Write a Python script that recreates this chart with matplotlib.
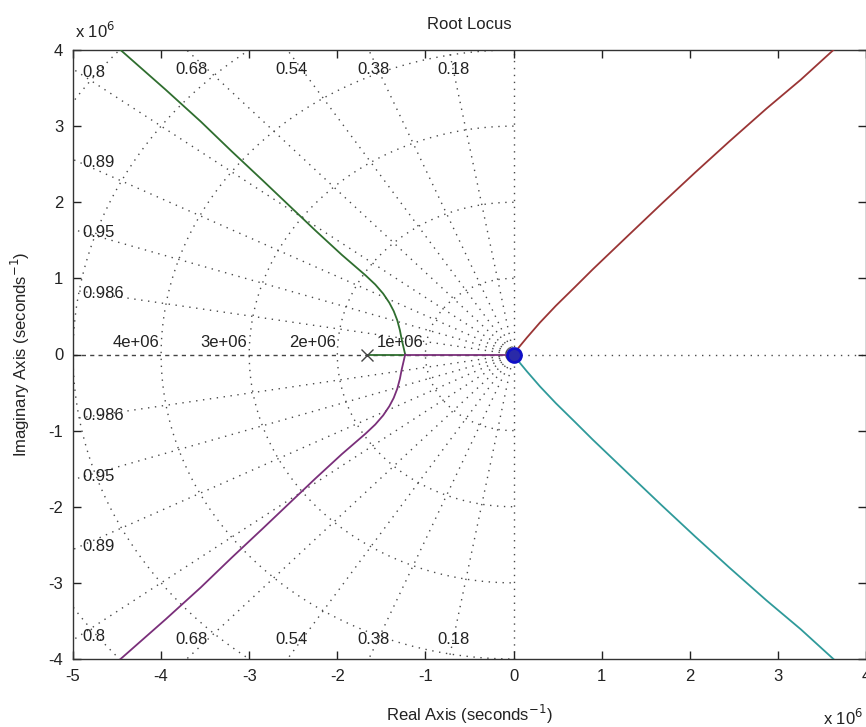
import numpy as np
import matplotlib
matplotlib.use("Agg")
import matplotlib.pyplot as plt

plt.rcParams['font.family'] = ['Liberation Sans Narrow', 'Liberation Sans', 'DejaVu Sans']
plt.rcParams['axes.unicode_minus'] = False

# all values in units of 1e6 seconds^-1
x_ticks = [-5, -4, -3, -2, -1, 0, 1, 2, 3, 4]
y_ticks = [-4, -3, -2, -1, 0, 1, 2, 3, 4]

wn_levels = [1, 2, 3, 4, 5, 6]
wn_labels = ["1e+06", "2e+06", "3e+06", "4e+06"]
zeta_top = [0.18, 0.38, 0.54, 0.68]
zeta_side = [0.8, 0.89, 0.95, 0.986]

# poles
pole_x = [-1.66]
origin_poles = [0.0]

# real axis segments
seg_green_re = [-1.66, -1.23]
seg_purple_re = [-1.23, 0.0]

# left branch (upper half, lower is its conjugate)
left_re = [-1.23, -1.25, -1.27, -1.29, -1.32, -1.36, -1.41, -1.48, -1.57,
           -1.68, -1.80, -1.95, -2.10, -2.25, -2.55, -2.85, -3.20, -3.55,
           -3.95, -4.46]
left_im = [0.0, 0.10, 0.20, 0.32, 0.45, 0.57, 0.68, 0.80, 0.92,
           1.04, 1.16, 1.31, 1.47, 1.63, 1.96, 2.29, 2.67, 3.06,
           3.48, 4.0]

# right branch (upper half, lower is its conjugate)
right_re = [0.0, 0.05, 0.15, 0.30, 0.48, 0.70, 0.90, 1.28, 1.68, 2.06,
            2.45, 2.87, 3.26, 3.63]
right_im = [0.0, 0.08, 0.22, 0.42, 0.64, 0.89, 1.12, 1.54, 1.98, 2.39,
            2.80, 3.23, 3.61, 4.0]

fig = plt.figure(figsize=(8.66, 7.27), dpi=100)
ax = fig.add_axes([73 / 866, 1 - 659 / 727, (866 - 73) / 866, (659 - 50) / 727])

xmin, xmax, ymin, ymax = -5, 4, -4, 4
grid_kw = dict(color='#4a4a4a', lw=1.0, ls=(0, (1, 4)), zorder=1)

# damping ratio rays
for z in zeta_top + zeta_side:
    s = np.sqrt(1 - z ** 2)
    for sgn in (1, -1):
        ax.plot([0, -20 * z], [0, sgn * 20 * s], **grid_kw)

# natural frequency arcs
th = np.linspace(np.pi / 2, 3 * np.pi / 2, 400)
for r in wn_levels:
    ax.plot(r * np.cos(th), r * np.sin(th), **grid_kw)

# axes lines
ax.plot([0, 0], [ymin, ymax], **grid_kw)
ax.plot([0, xmax], [0, 0], **grid_kw)
ax.plot([xmin, 0], [0, 0], color='#444444', lw=1.0, ls=(0, (3, 3)), zorder=1)

# labels of grid
for r, lab in zip(wn_levels, wn_labels):
    ax.text(-r - 0.02, 0.06, lab, ha='right', va='bottom', fontsize=12, color='#222222')
for z in zeta_top:
    x_int = -ymax * z / np.sqrt(1 - z ** 2)
    for yy in (3.75, -3.75):
        ax.text(x_int + 0.05, yy, f"{z:g}", ha='center', va='center', fontsize=12, color='#222222')
for z in zeta_side:
    y_int = -xmin * np.sqrt(1 - z ** 2) / z
    for sgn in (1, -1):
        ax.text(-4.89, sgn * (y_int - 0.04), f"{z:g}", ha='left', va='center', fontsize=12, color='#222222')

# locus branches
lre = np.array(left_re)
lim = np.array(left_im)
rre = np.array(right_re)
rim = np.array(right_im)
ax.plot(seg_green_re, [0, 0], color='#2f6e2f', lw=1.3, zorder=3)
ax.plot(seg_purple_re, [0, 0], color='#7a2f7a', lw=1.3, zorder=3)
ax.plot(lre, lim, color='#2f6e2f', lw=1.3, zorder=3)
ax.plot(lre, -lim, color='#7a2f7a', lw=1.3, zorder=3)
ax.plot(rre, rim, color='#9a3535', lw=1.3, zorder=3)
ax.plot(rre, -rim, color='#2f9a9a', lw=1.3, zorder=3)

ax.plot(pole_x, [0], marker='x', color='#444444', ms=8, mew=1.0, ls='none', zorder=4)
ax.plot(origin_poles, [0], marker='o', mfc='#2a2aa8', mec='#1010c8', ms=10, mew=2, ls='none', zorder=5)

ax.set_xlim(xmin, xmax)
ax.set_ylim(ymin, ymax)
ax.set_xticks(x_ticks)
ax.set_yticks(y_ticks)
ax.tick_params(direction='in', length=6, width=1, top=True, right=True,
               labelsize=12, colors='#222222', pad=7)
for sp in ax.spines.values():
    sp.set_color('#333333')
    sp.set_linewidth(1.0)

ax.set_title("Root Locus", fontsize=12, color='#222222', pad=15)
ax.set_xlabel("Real Axis (seconds$^{-1}$)", fontsize=12, color='#222222', labelpad=14)
ax.set_ylabel("Imaginary Axis (seconds$^{-1}$)", fontsize=12, color='#222222', labelpad=12)
fig.text(75 / 866, 1 - 31 / 727, "x 10$^{6}$", fontsize=12, color='#222222', va='center')
fig.text(823 / 866, 1 - 718 / 727, "x 10$^{6}$", fontsize=12, color='#222222', va='center')

fig.savefig("out.png", dpi=100, facecolor='white')
